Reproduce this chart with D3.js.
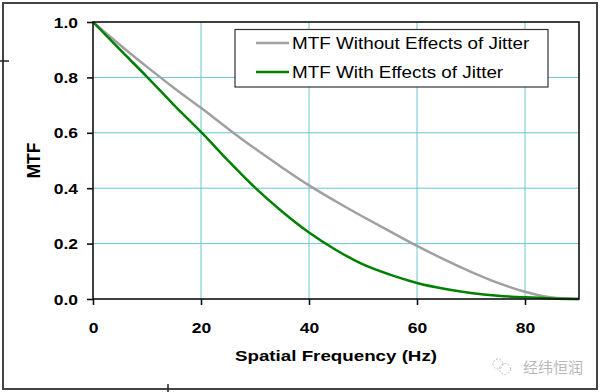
<!DOCTYPE html>
<html><head><meta charset="utf-8">
<script src="https://cdn.jsdelivr.net/npm/d3@7"></script>
<style>body{margin:0;background:#fff}svg{display:block}</style>
</head><body>
<script>
const freq = [0,5,10,15,20,25,30,35,40,45,50,55,60,65,70,75,80,85,90];
const mtfWithout = [1.0,0.917,0.838,0.762,0.69,0.615,0.543,0.475,0.41,0.352,0.297,0.244,0.192,0.143,0.098,0.058,0.026,0.005,0.0];
const mtfWith = [1.0,0.9,0.802,0.70,0.603,0.50,0.402,0.316,0.24,0.177,0.125,0.088,0.058,0.037,0.022,0.012,0.006,0.002,0.0];
const xTicks = [0,20,40,60,80];
const yTicks = [0,0.2,0.4,0.6,0.8,1.0];
const seriesNames = ["MTF Without Effects of Jitter","MTF With Effects of Jitter"];
const seriesColors = ["#a0a0a0","#008000"];

const W=601,H=392;
const SX=1.25;
const svg=d3.select("body").append("svg").attr("width",W).attr("height",H);
const font="Liberation Sans, Arial, sans-serif";
const L=93,R=579,T=22,B=299;
const x=d3.scaleLinear().domain([0,90]).range([L,R]);
const y=d3.scaleLinear().domain([0,1]).range([B,T]);

// outer frame
svg.append("rect").attr("x",3).attr("y",3).attr("width",594).attr("height",386)
  .attr("fill","#fff").attr("stroke","#444").attr("stroke-width",2);
svg.append("line").attr("x1",0).attr("x2",9).attr("y1",61).attr("y2",61).attr("stroke","#222").attr("stroke-width",1.5);
svg.append("line").attr("x1",168).attr("x2",168).attr("y1",384).attr("y2",392).attr("stroke","#222").attr("stroke-width",1.5);

// gridlines
const g=svg.append("g");
g.selectAll(".vg").data(xTicks.filter(d=>d>0)).join("line")
  .attr("x1",d=>x(d)).attr("x2",d=>x(d)).attr("y1",T).attr("y2",B)
  .attr("stroke","#66c8d2").attr("stroke-width",1);
g.selectAll(".hg").data(yTicks.filter(d=>d>0&&d<1)).join("line")
  .attr("x1",L).attr("x2",R).attr("y1",d=>y(d)).attr("y2",d=>y(d))
  .attr("stroke","#66c8d2").attr("stroke-width",1);

// lines
const line=d3.line().x((d,i)=>x(freq[i])).y(d=>y(d)).curve(d3.curveMonotoneX);
[mtfWithout,mtfWith].forEach((s,k)=>{
  svg.append("path").attr("d",line(s)).attr("fill","none")
    .attr("stroke",seriesColors[k]).attr("stroke-width",2.5);
});

// plot border
svg.append("rect").attr("x",L).attr("y",T).attr("width",R-L).attr("height",B-T)
  .attr("fill","none").attr("stroke","#111").attr("stroke-width",1.6);

// axes
const xa=svg.append("g").attr("transform",`translate(0,${B})`)
  .call(d3.axisBottom(x).tickValues(xTicks).tickSize(6).tickFormat(d3.format("d")));
const ya=svg.append("g").attr("transform",`translate(${L},0)`)
  .call(d3.axisLeft(y).tickValues(yTicks).tickSize(6).tickFormat(d3.format(".1f")));
[xa,ya].forEach(a=>{
  a.select(".domain").remove();
  a.selectAll("line").attr("stroke","#111").attr("stroke-width",1.6);
  a.selectAll("text").attr("font-family",font).attr("font-weight","bold")
    .attr("font-size",14).attr("fill","#000").attr("x",null).attr("y",null).attr("dy",null);
});
xa.selectAll("text").attr("transform",`translate(0,34) scale(${SX},1)`);
ya.selectAll("text").attr("transform",`translate(-15,5) scale(${SX},1)`);

// titles
svg.append("text").attr("transform",`translate(${(L+R)/2},361) scale(${SX},1)`).attr("text-anchor","middle")
  .attr("font-family",font).attr("font-weight","bold").attr("font-size",15).text("Spatial Frequency (Hz)");
svg.append("text").attr("transform",`translate(39.5,${(T+B)/2}) rotate(-90)`).attr("text-anchor","middle")
  .attr("font-family",font).attr("font-weight","bold").attr("font-size",17.5).text("MTF");

// legend
const lg=svg.append("g");
lg.append("rect").attr("x",235).attr("y",29.5).attr("width",313).attr("height",57.5)
  .attr("fill","#fff").attr("stroke","#333").attr("stroke-width",1.2);
seriesNames.forEach((n,k)=>{
  const yy=43+k*29;
  lg.append("line").attr("x1",256).attr("x2",289).attr("y1",yy).attr("y2",yy)
    .attr("stroke",seriesColors[k]).attr("stroke-width",2.5);
  lg.append("text").attr("transform",`translate(292,${yy+6}) scale(1.15,1)`).attr("font-family",font)
    .attr("font-size",16.4).attr("fill","#000").text(n);
});

// watermark
const wm=svg.append("g").attr("opacity",0.6);
wm.append("circle").attr("cx",498).attr("cy",364).attr("r",5).attr("fill","none").attr("stroke","#999").attr("stroke-width",1).attr("stroke-dasharray","2,1.5");
wm.append("circle").attr("cx",505).attr("cy",369).attr("r",5.5).attr("fill","none").attr("stroke","#999").attr("stroke-width",1).attr("stroke-dasharray","2,1.5");
wm.append("text").attr("x",523).attr("y",373).attr("font-family","Noto Sans CJK SC, sans-serif")
  .attr("font-size",15).attr("fill","#888").text("经纬恒润");
</script>
</body></html>
